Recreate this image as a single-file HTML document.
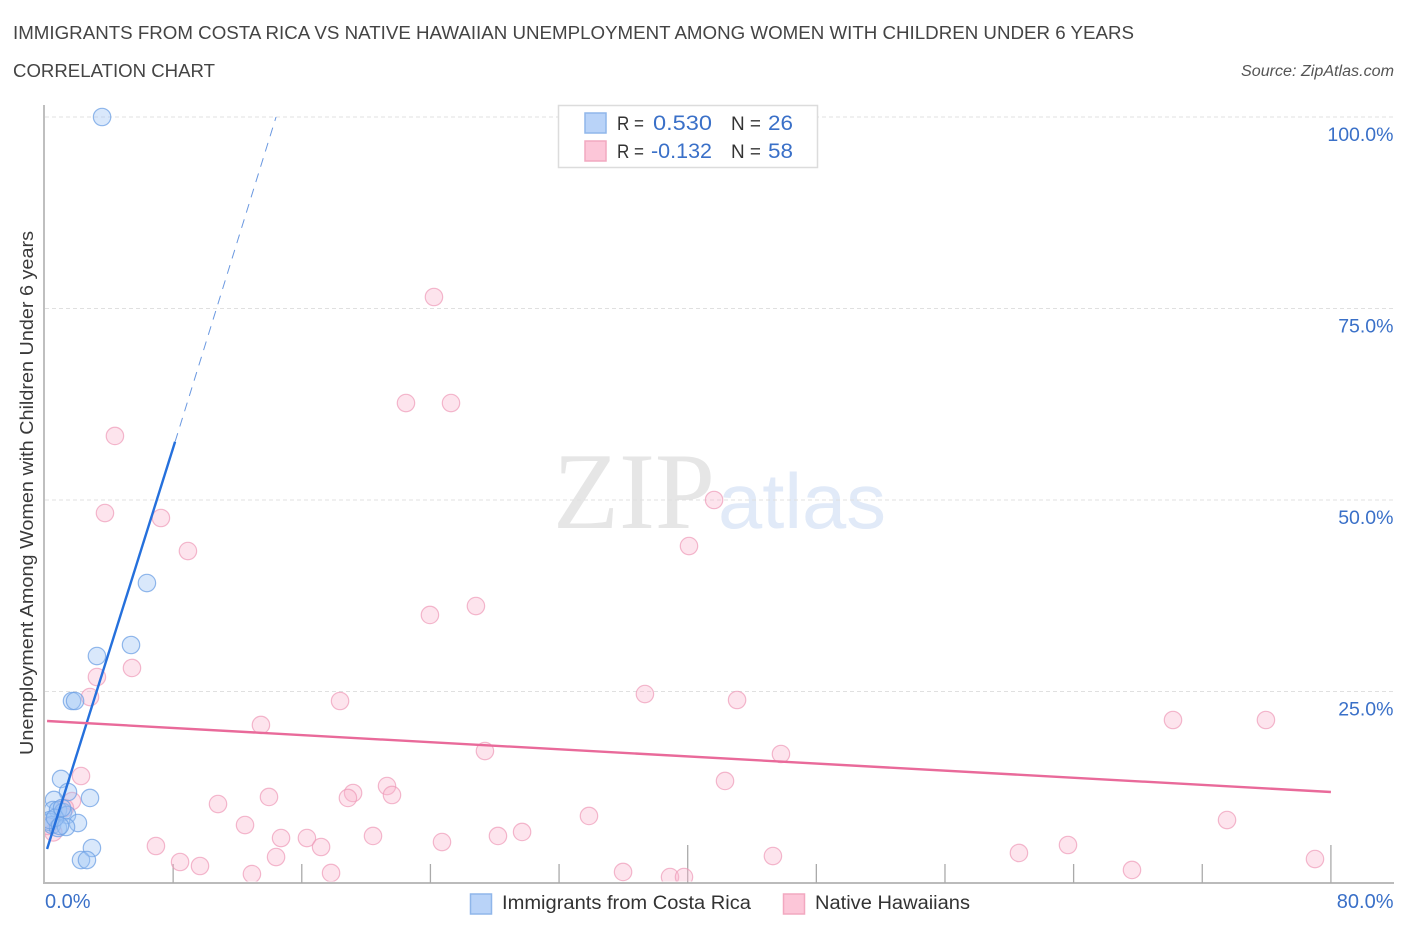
<!DOCTYPE html>
<html lang="en">
<head>
<meta charset="utf-8">
<title>Immigrants from Costa Rica vs Native Hawaiian Unemployment Correlation Chart</title>
<style>
html,body{margin:0;padding:0;background:#fff;width:1406px;height:930px;overflow:hidden}
svg{display:block}
text{font-family:"Liberation Sans",sans-serif}
</style>
</head>
<body>
<svg id="chart" width="1406" height="930" viewBox="0 0 1406 930" xmlns="http://www.w3.org/2000/svg">
  <defs>
    <clipPath id="plot-clip"><rect x="45" y="100" width="1349" height="781.5"/></clipPath>
  </defs>
  <text x="13" y="39" font-size="18.5" fill="#444" textLength="1121" lengthAdjust="spacingAndGlyphs">IMMIGRANTS FROM COSTA RICA VS NATIVE HAWAIIAN UNEMPLOYMENT AMONG WOMEN WITH CHILDREN UNDER 6 YEARS</text>
  <text x="13" y="77" font-size="18.5" fill="#444" textLength="202" lengthAdjust="spacingAndGlyphs">CORRELATION CHART</text>
  <text x="1394" y="76" font-size="15.5" font-style="italic" fill="#555" text-anchor="end" textLength="153" lengthAdjust="spacingAndGlyphs">Source: ZipAtlas.com</text>

  <g>
    <text x="553" y="528" font-size="109" fill="#e6e6e6" style="font-family:'Liberation Serif',serif" textLength="162" lengthAdjust="spacingAndGlyphs">ZIP</text>
    <text x="718" y="528" font-size="78" fill="#e1eaf8" textLength="168" lengthAdjust="spacingAndGlyphs">atlas</text>
  </g>

  <g id="grid"></g>
  <g id="axes"></g>
  <g id="pink-points" clip-path="url(#plot-clip)"></g>
  <g id="blue-points" clip-path="url(#plot-clip)"></g>
  <g id="trends"></g>
  <g id="labels"></g>

  <text transform="translate(33,493) rotate(-90)" font-size="18.5" fill="#3a3a3a" text-anchor="middle" textLength="524" lengthAdjust="spacingAndGlyphs">Unemployment Among Women with Children Under 6 years</text>

  <g>
    <rect x="558.5" y="105.5" width="259" height="62" fill="#fff" stroke="#dcdcdc" stroke-width="1.5"/>
    <rect x="585" y="113" width="21" height="20" fill="#b9d3f8" stroke="#8fb6ea" stroke-width="1.5"/>
    <rect x="585" y="141" width="21" height="20" fill="#fcc6d8" stroke="#f2a8c0" stroke-width="1.5"/>
    <text x="617" y="130" font-size="19" fill="#333" textLength="27" lengthAdjust="spacingAndGlyphs">R =</text>
    <text x="653" y="130" font-size="21.5" fill="#3a70c8" textLength="59" lengthAdjust="spacingAndGlyphs">0.530</text>
    <text x="731" y="130" font-size="19" fill="#333" textLength="30" lengthAdjust="spacingAndGlyphs">N =</text>
    <text x="768" y="130" font-size="21.5" fill="#3a70c8" textLength="25" lengthAdjust="spacingAndGlyphs">26</text>
    <text x="617" y="158" font-size="19" fill="#333" textLength="27" lengthAdjust="spacingAndGlyphs">R =</text>
    <text x="651" y="158" font-size="21.5" fill="#3a70c8" textLength="61" lengthAdjust="spacingAndGlyphs">-0.132</text>
    <text x="731" y="158" font-size="19" fill="#333" textLength="30" lengthAdjust="spacingAndGlyphs">N =</text>
    <text x="768" y="158" font-size="21.5" fill="#3a70c8" textLength="25" lengthAdjust="spacingAndGlyphs">58</text>
  </g>

  <g>
    <rect x="470.5" y="894" width="21" height="20" fill="#b9d3f8" stroke="#8fb6ea" stroke-width="1.5"/>
    <text x="502" y="909" font-size="19" fill="#333" textLength="249" lengthAdjust="spacingAndGlyphs">Immigrants from Costa Rica</text>
    <rect x="783.5" y="894" width="21" height="20" fill="#fcc6d8" stroke="#f2a8c0" stroke-width="1.5"/>
    <text x="815" y="909" font-size="19" fill="#333" textLength="155" lengthAdjust="spacingAndGlyphs">Native Hawaiians</text>
  </g>
</svg>
<script>
const blueX = [3.58,6.37,5.38,3.26,1.71,1.90,1.03,1.46,2.83,0.59,0.53,0.84,1.15,1.40,0.34,2.08,0.47,0.84,1.34,0.34,2.95,2.27,2.64,0.65,0.96,1.09];
const blueY = [100,39.16,31.07,29.63,23.76,23.76,13.58,11.88,11.10,10.84,9.53,9.53,9.27,8.88,7.96,7.83,7.57,7.18,7.31,8.22,4.57,3.0,3.0,8.49,7.44,9.79];
const pinkX = [24.22,22.48,25.28,4.38,3.76,7.24,8.92,41.64,40.08,23.97,26.83,5.44,3.26,2.83,37.34,43.07,18.38,13.46,70.18,75.96,27.39,45.80,2.27,42.32,21.30,21.61,19.19,18.87,13.96,10.79,1.71,1.27,33.86,73.54,12.47,29.70,28.20,20.43,14.71,16.32,24.72,17.20,6.93,63.65,60.60,45.30,14.40,79.01,8.43,9.67,67.63,35.98,12.90,17.82,38.90,39.77,0.55,0.22];
const pinkY = [76.5,62.66,62.66,58.36,48.30,47.65,43.34,50.0,43.99,34.99,36.16,28.07,26.89,24.28,24.67,23.89,23.76,20.63,21.28,21.28,17.23,16.84,13.97,13.32,12.66,11.49,11.75,11.10,11.23,10.31,10.70,9.79,8.75,8.22,7.57,6.66,6.14,6.14,5.87,5.87,5.35,4.70,4.83,4.96,3.92,3.52,3.39,3.13,2.74,2.22,1.70,1.44,1.17,1.31,0.78,0.78,6.60,7.44];
const blueTrendX = [0.16,8.12,14.4];
const blueTrendY = [4.44,57.6,100];
const pinkTrendX = [0.16,80];
const pinkTrendY = [21.15,11.88];
const yTicks = [100,75,50,25];
const yTickLabels = ["100.0%","75.0%","50.0%","25.0%"];
const xTicks = [0,8,16,24,32,40,48,56,64,72,80];
const xTickLabels = ["0.0%","80.0%"];

const NS = "http://www.w3.org/2000/svg";
function xAxis(v){ return 44.5 + v * 16.08; }
function yAxis(v){ return 883 - v * 7.66; }
function make(tag, attrs, parent){
  const el = document.createElementNS(NS, tag);
  for (const k in attrs) el.setAttribute(k, attrs[k]);
  parent.appendChild(el);
  return el;
}
const gridG = document.getElementById('grid');
const axesG = document.getElementById('axes');
const labelsG = document.getElementById('labels');
const trendsG = document.getElementById('trends');

yTicks.forEach(function(t, i){
  const g = make('line', {x1:45, x2:1394, y1:yAxis(t), y2:yAxis(t), stroke:'#e0e0e0', 'stroke-width':1, 'stroke-dasharray':'4 3'}, gridG);
  
  
  const l = make('text', {x:1393.5, y:yAxis(t)+24, 'font-size':19.5, fill:'#3a70c8', 'text-anchor':'end'}, labelsG);
  
  
  l.textContent = yTickLabels[i];
});

const yAxisLine = make('line', {x1:44, x2:44, y1:105, y2:884, stroke:'#aaa', 'stroke-width':1.5}, axesG);


const xAxisLine = make('line', {x1:43, x2:1394, y1:883, y2:883, stroke:'#bbb', 'stroke-width':2}, axesG);



xTicks.forEach(function(t){
  if (t === 0) return;
  const tall = (t === 40 || t === 80);
  const m = make('line', {x1:xAxis(t), x2:xAxis(t), y1:tall ? 845 : 864, y2:883, stroke:'#aaa', 'stroke-width':1.3}, axesG);
  
  
});

const x0Label = make('text', {x:45, y:908, 'font-size':20, fill:'#3a70c8'}, labelsG);


x0Label.textContent = xTickLabels[0];
const x1Label = make('text', {x:1393.5, y:908, 'font-size':20, fill:'#3a70c8', 'text-anchor':'end'}, labelsG);


x1Label.textContent = xTickLabels[1];

const pinkG = document.getElementById('pink-points');
pinkX.forEach(function(v, i){
  const c = make('circle', {cx:xAxis(v), cy:yAxis(pinkY[i]), r:8.7, fill:'#f9b4cc', 'fill-opacity':0.36, stroke:'#ee9ab8', 'stroke-opacity':0.7, 'stroke-width':1.2}, pinkG);
  
  
});
const blueG = document.getElementById('blue-points');
blueX.forEach(function(v, i){
  const c = make('circle', {cx:xAxis(v), cy:yAxis(blueY[i]), r:8.7, fill:'#9cc3f5', 'fill-opacity':0.38, stroke:'#6ea0e4', 'stroke-opacity':0.75, 'stroke-width':1.2}, blueG);
  
  
});

const blueSolid = make('line', {x1:xAxis(blueTrendX[0]), y1:yAxis(blueTrendY[0]), x2:xAxis(blueTrendX[1]), y2:yAxis(blueTrendY[1]), stroke:'#2570dc', 'stroke-width':2.4}, trendsG);


const blueDash = make('line', {x1:xAxis(blueTrendX[1]), y1:yAxis(blueTrendY[1]), x2:xAxis(blueTrendX[2]), y2:yAxis(blueTrendY[2]), stroke:'#6a98e0', 'stroke-width':1, 'stroke-dasharray':'9 7'}, trendsG);


const pinkLine = make('line', {x1:xAxis(pinkTrendX[0]), y1:yAxis(pinkTrendY[0]), x2:xAxis(pinkTrendX[1]), y2:yAxis(pinkTrendY[1]), stroke:'#e96a9a', 'stroke-width':2.4}, trendsG);


</script>
</body>
</html>
